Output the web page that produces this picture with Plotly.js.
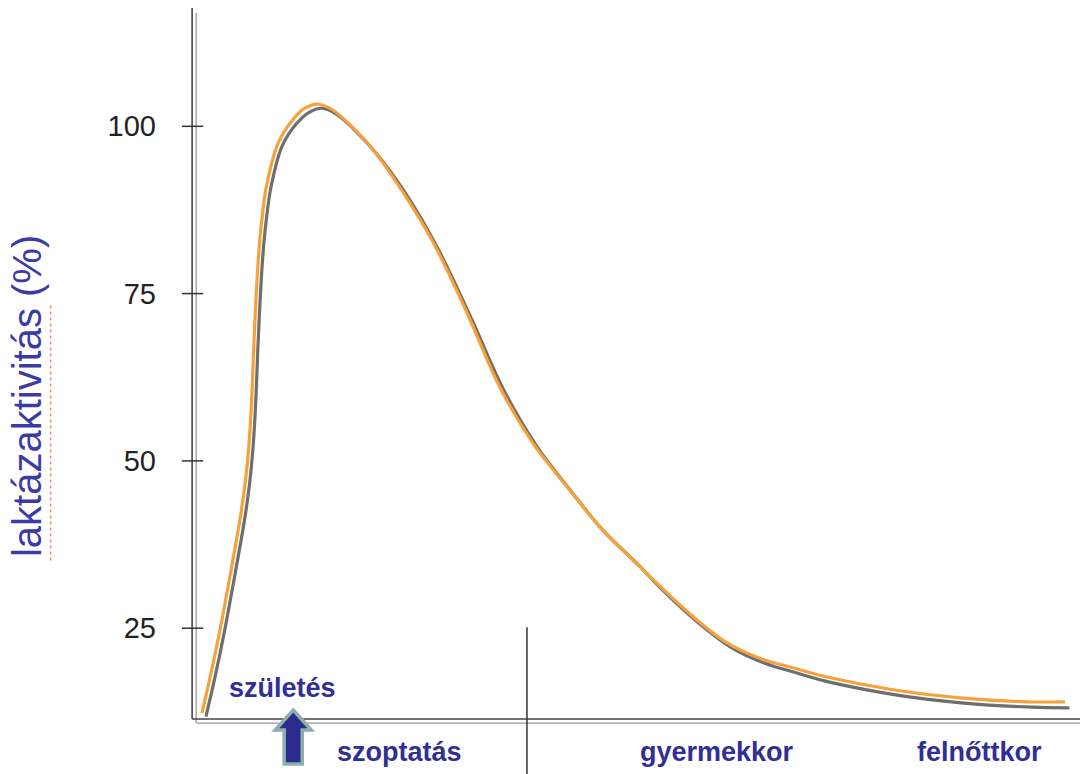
<!DOCTYPE html>
<html>
<head>
<meta charset="utf-8">
<script src="https://cdn.plot.ly/plotly-3.0.1.min.js"></script>
<style>html,body{margin:0;padding:0;background:#fff;}#chart{width:1080px;height:774px;}</style>
</head>
<body>
<div id="chart"></div>
<script>
// Age axis (arbitrary units, no numeric scale in the original)
const ageOrange = [1.01, 2.03, 2.99, 3.95, 4.90, 5.41, 5.92, 6.29, 6.54, 6.71, 6.85, 7.02, 7.25, 7.53, 7.89, 8.34, 9.6, 11.2, 12.6, 14.1, 15.8, 17.7, 20.3, 23.3, 27.1, 30.9, 34.6, 38.3, 42.2, 45.9, 49.6, 52.7, 56.4, 60.2, 63.9, 67.6, 71.5, 78.9, 86.5, 94.0, 98.3];
const lactaseOrange = [12.3, 18.3, 24.4, 31.2, 38.2, 42.2, 47.1, 52.1, 57.2, 62.1, 67.0, 72.1, 77.8, 83.0, 87.5, 91.5, 97.5, 100.9, 102.7, 103.3, 102.4, 100.2, 96.5, 90.9, 82.6, 72.1, 61.0, 52.7, 46.1, 40.1, 35.2, 31.2, 26.7, 22.8, 20.5, 19.1, 17.7, 15.8, 14.6, 14.0, 14.0];
// Shadow (grey) curve
const ageGrey = [1.46, 2.48, 3.44, 4.40, 5.35, 5.86, 6.37, 6.74, 6.99, 7.16, 7.30, 7.47, 7.70, 7.98, 8.34, 8.79, 10.0, 11.6, 13.1, 14.5, 16.2, 18.1, 20.7, 23.8, 27.5, 31.3, 35.1, 38.8, 42.6, 46.3, 50.1, 53.1, 56.8, 60.7, 64.4, 68.1, 71.9, 79.4, 86.9, 94.5, 98.8];
const lactaseGrey = [11.8, 17.7, 23.8, 30.6, 37.6, 41.6, 46.5, 51.5, 56.6, 61.5, 66.4, 71.5, 77.2, 82.4, 86.9, 90.9, 96.9, 100.3, 102.1, 102.7, 101.8, 99.6, 95.9, 90.3, 82.0, 71.5, 60.4, 52.1, 45.5, 39.5, 34.6, 30.5, 26.0, 22.1, 19.8, 18.3, 16.9, 15.0, 13.8, 13.2, 13.1];

const yTickVals = [25, 50, 75, 100];
const yTickText = ["25", "50", "75", "100"];

const stageLabels = ["szoptatás", "gyermekkor", "felnőttkor"];
const stageX = [23.3, 59.1, 88.7];
const birthLabel = "születés";
const birthX = 10.1;
const arrowX = 11.3;
const dividerX = 37.65;
const yTitle = "laktázaktivitás (%)";

const FONT = "Liberation Sans, Arial, sans-serif";
const LABEL_COLOR = "#2f2f96";

const traces = [
  {x: ageGrey, y: lactaseGrey, type: "scatter", mode: "lines",
   line: {color: "#6e6e6e", width: 3.2, shape: "spline", smoothing: 1.0}, hoverinfo: "skip", showlegend: false},
  {x: ageOrange, y: lactaseOrange, type: "scatter", mode: "lines",
   line: {color: "#f7a13a", width: 3.2, shape: "spline", smoothing: 1.0}, hoverinfo: "skip", showlegend: false}
];

const shapes = [
  // double y axis line
  {type: "line", xref: "paper", yref: "paper", x0: -0.001, x1: -0.001, y0: 0, y1: 1, line: {color: "#444", width: 1.6}},
  {type: "line", xref: "paper", yref: "paper", x0: 0.0036, x1: 0.0036, y0: -0.006, y1: 0.993, line: {color: "#9a9a9a", width: 1.3}},
  // double x axis line
  {type: "line", xref: "paper", yref: "paper", x0: -0.001, x1: 1, y0: 0, y1: 0, line: {color: "#444", width: 1.6}},
  {type: "line", xref: "paper", yref: "paper", x0: 0.0045, x1: 1, y0: -0.0058, y1: -0.0058, line: {color: "#9a9a9a", width: 1.3}},
  // divider between szoptatás and gyermekkor
  {type: "line", xref: "x", yref: "paper", x0: dividerX, x1: dividerX, y0: 0.129, y1: -0.08, line: {color: "#333", width: 1.5}},
  // spell-check squiggle under the title word
  {type: "line", xref: "paper", yref: "paper", x0: -0.1605, x1: -0.1605, y0: 0.223, y1: 0.582, line: {color: "#f08a8a", width: 1.6, dash: "dot"}},
  // birth arrow
  {type: "path", xref: "x", yref: "paper", xsizemode: "pixel", ysizemode: "pixel", xanchor: arrowX, yanchor: 0,
   path: "M 0 9 L 18 -11 L 9 -11 L 9 -45 L -9 -45 L -9 -11 L -18 -11 Z",
   fillcolor: "#2b2b8e", line: {color: "#8eaeac", width: 3.5}}
];
yTickVals.forEach(v => shapes.push({type: "line", xref: "paper", yref: "y", x0: -0.0125, x1: 0.0115, y0: v, y1: v, line: {color: "#333", width: 1.5}}));

const annotations = [
  {text: yTitle, xref: "paper", yref: "paper", x: -0.1865, y: 0.4536, xanchor: "center", yanchor: "middle",
   textangle: -90, showarrow: false, font: {family: FONT, size: 40, color: "#3a3aa8"}},
  {text: "<b>" + birthLabel + "</b>", xref: "x", yref: "paper", x: birthX, y: 0.044, xanchor: "center", yanchor: "middle",
   showarrow: false, font: {family: FONT, size: 27, color: LABEL_COLOR}}
];
stageLabels.forEach((s, i) => annotations.push({text: "<b>" + s + "</b>", xref: "x", yref: "paper", x: stageX[i], y: -0.047,
  xanchor: "center", yanchor: "middle", showarrow: false, font: {family: FONT, size: 27, color: LABEL_COLOR}}));

const layout = {
  width: 1080, height: 774,
  margin: {l: 193, r: 0, t: 8, b: 55},
  paper_bgcolor: "#fff", plot_bgcolor: "#fff",
  showlegend: false,
  font: {family: FONT},
  xaxis: {range: [0, 100], showgrid: false, zeroline: false, showline: false, showticklabels: false, ticks: "", fixedrange: true},
  yaxis: {range: [11.43, 117.68], tickvals: yTickVals, ticktext: yTickText, showgrid: false, zeroline: false, showline: false,
          ticks: "", ticklabelstandoff: 36, tickfont: {family: FONT, size: 29, color: "#222"}, fixedrange: true},
  shapes: shapes,
  annotations: annotations
};

Plotly.newPlot("chart", traces, layout, {staticPlot: true, displayModeBar: false});
</script>
</body>
</html>
